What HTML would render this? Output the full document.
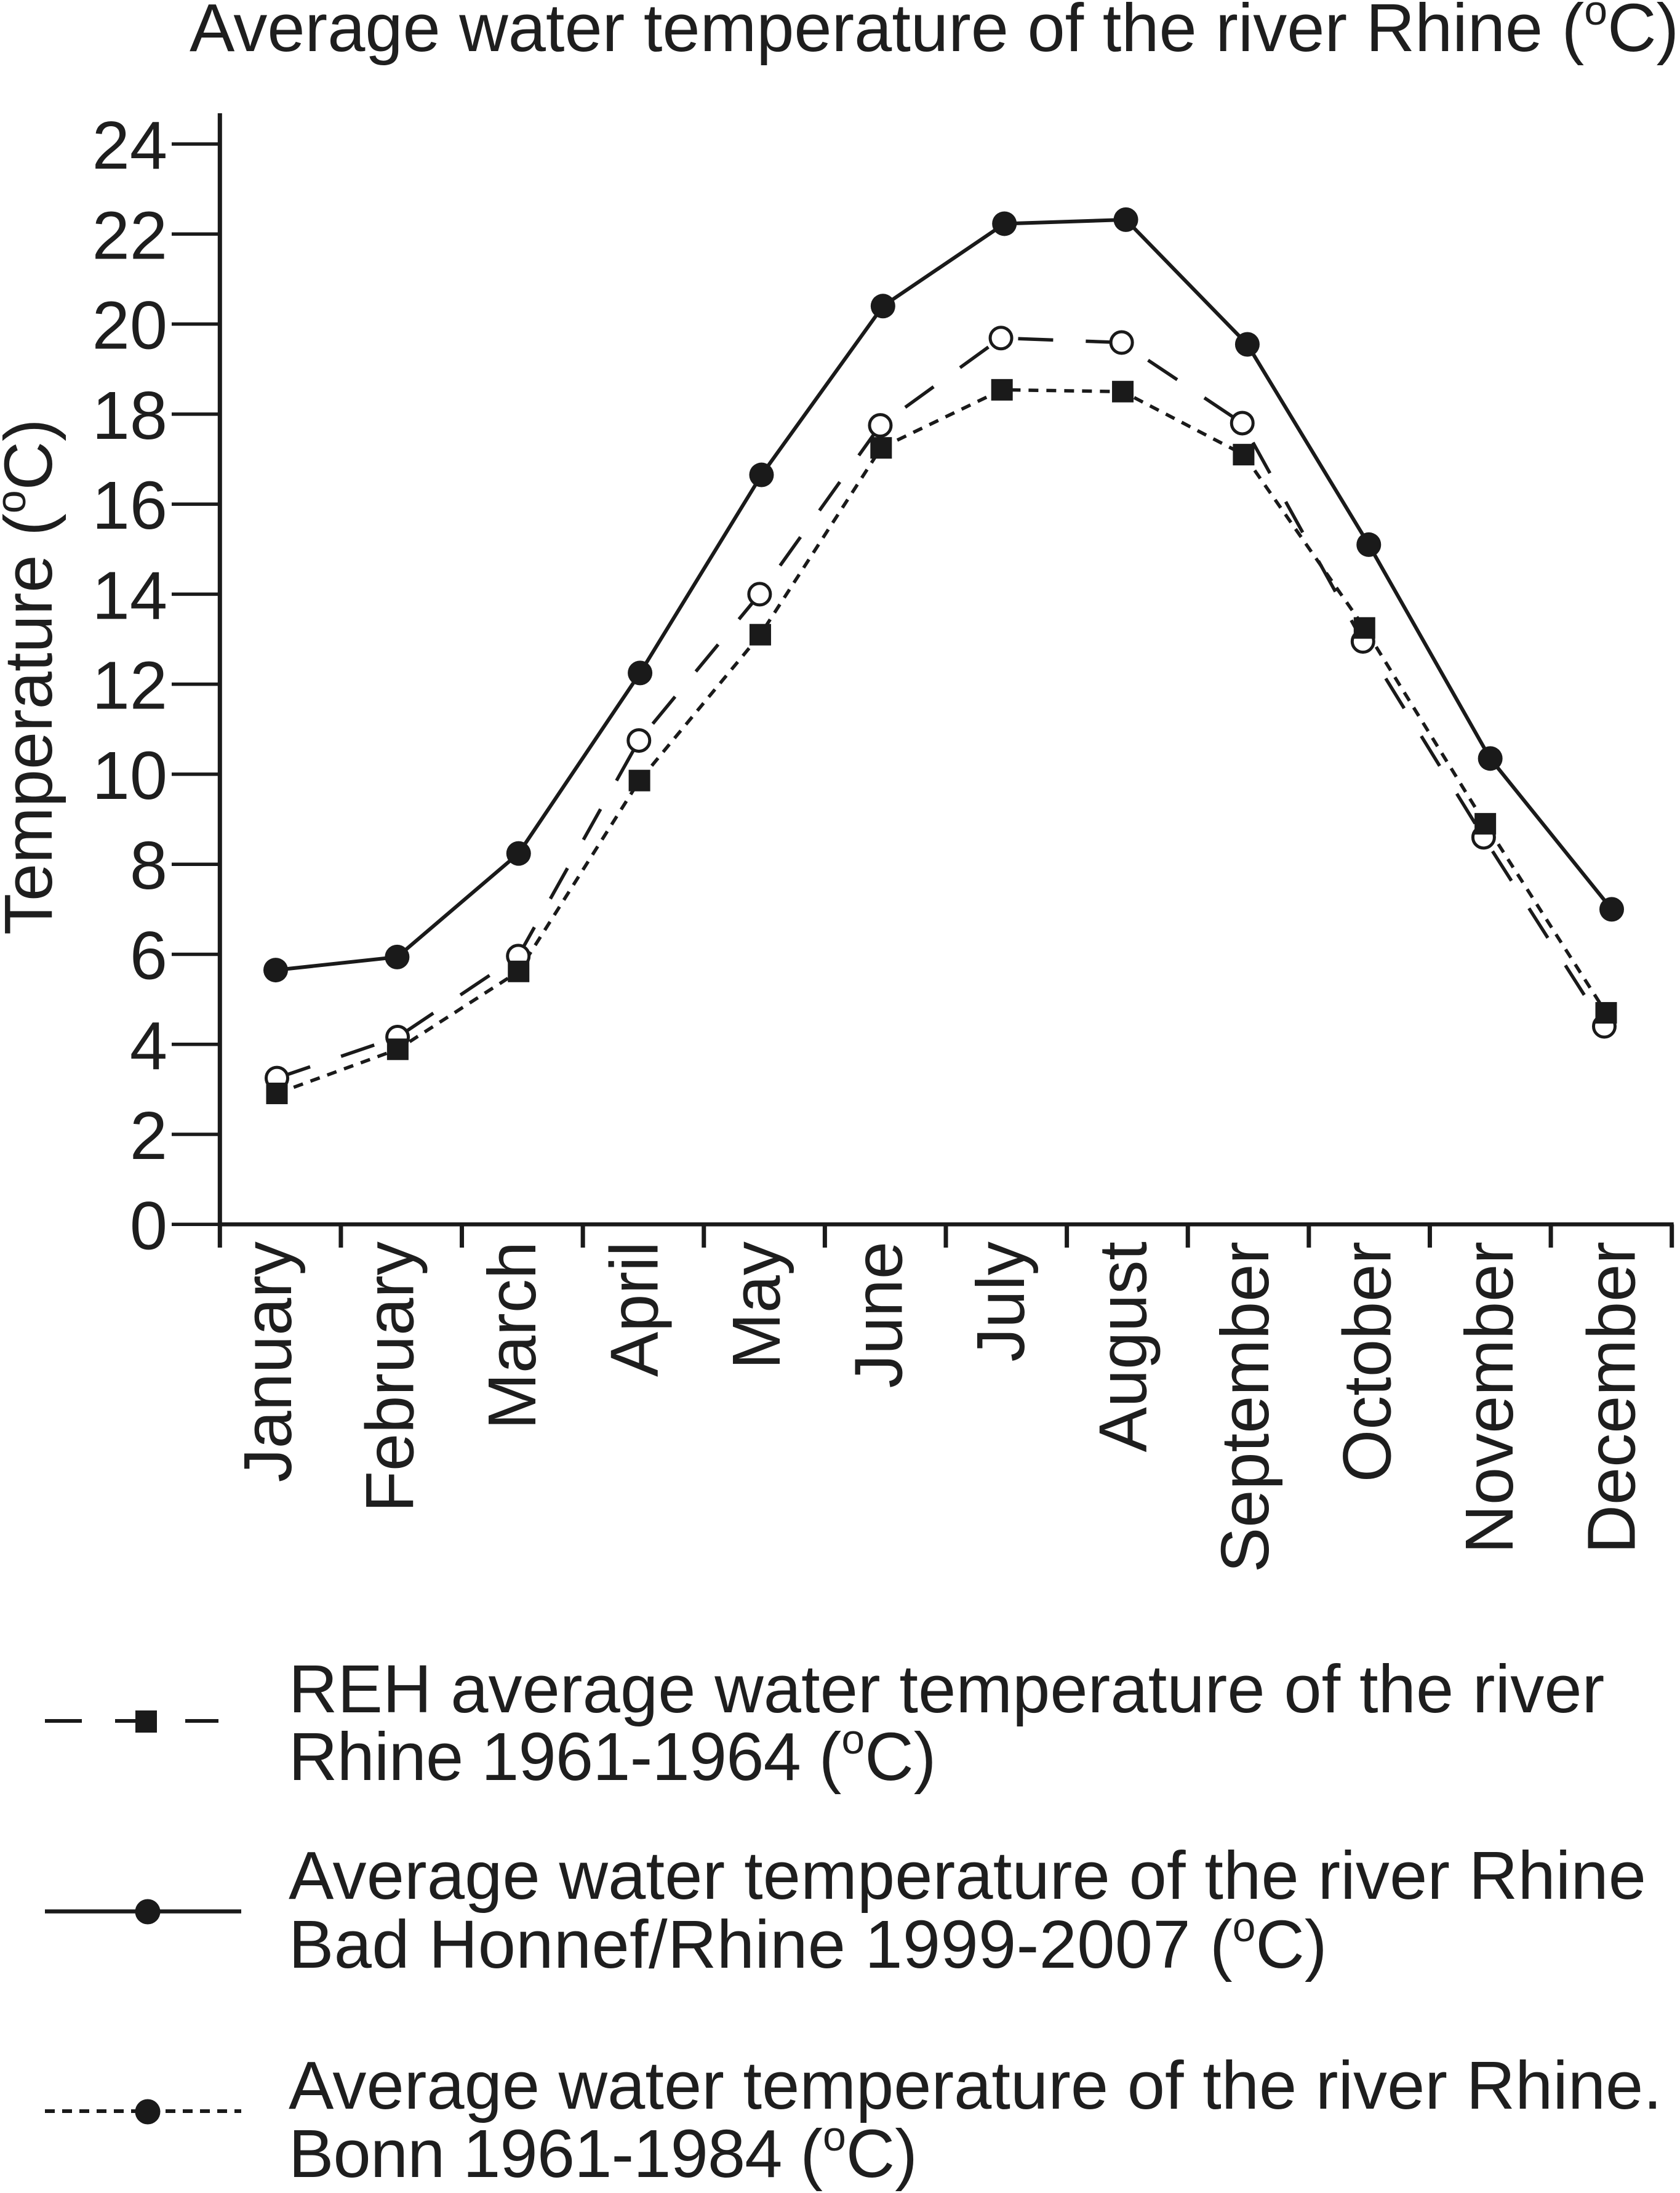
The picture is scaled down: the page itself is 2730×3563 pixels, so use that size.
<!DOCTYPE html>
<html lang="en">
<head>
<meta charset="utf-8">
<title>Average water temperature of the river Rhine</title>
<style>
html,body{margin:0;padding:0;background:#fff;}
svg{display:block;}
text{font-family:"Liberation Sans",Arial,sans-serif;font-size:110px;fill:#1e1e1e;}
</style>
</head>
<body>
<svg id="chart" xmlns="http://www.w3.org/2000/svg" width="2730" height="3563" viewBox="0 0 2730 3563">
  <rect x="0" y="0" width="2730" height="3563" fill="#ffffff"/>
  <text x="308" y="83">Average water temperature of the river Rhine (<tspan dy="-43" style="font-size:68px">o</tspan><tspan dy="43">C)</tspan></text>
  <text transform="translate(84,1519) rotate(-90)">Temperature (<tspan dy="-43" style="font-size:68px">o</tspan><tspan dy="43">C)</tspan></text>
  <g id="axes"></g>
  <g id="series"></g>

  <g>
    <g>
      <line x1="73" y1="2796" x2="355" y2="2796" stroke="#1a1a1a" stroke-width="6" stroke-dasharray="60 54"/>
      <rect x="220" y="2779" width="35" height="36" fill="#1a1a1a"/>
      <text x="469" y="2782" style="letter-spacing:0.11px">REH average water temperature of the river</text>
      <text x="469" y="2892"><tspan style="letter-spacing:-0.8px">Rhine 1961-1964 </tspan>(<tspan dy="-43" style="font-size:68px">o</tspan><tspan dy="43">C)</tspan></text>
    </g>
    <g>
      <line x1="73" y1="3105.5" x2="392" y2="3105.5" stroke="#1a1a1a" stroke-width="6.5"/>
      <circle cx="240" cy="3106" r="20.5" fill="#1a1a1a"/>
      <text x="469" y="3085" style="letter-spacing:0.16px">Average water temperature of the river Rhine</text>
      <text x="469" y="3197"><tspan style="letter-spacing:0.4px">Bad Honnef/Rhine 1999-2007 </tspan>(<tspan dy="-43" style="font-size:68px">o</tspan><tspan dy="43">C)</tspan></text>
    </g>
    <g>
      <line x1="73" y1="3430" x2="392" y2="3430" stroke="#1a1a1a" stroke-width="6" stroke-dasharray="16 12"/>
      <circle cx="240" cy="3431" r="20.5" fill="#1a1a1a"/>
      <text x="469" y="3426" style="letter-spacing:0.05px">Average water temperature of the river Rhine.</text>
      <text x="469" y="3537"><tspan style="letter-spacing:-0.85px">Bonn 1961-1984 </tspan>(<tspan dy="-43" style="font-size:68px">o</tspan><tspan dy="43">C)</tspan></text>
    </g>
  </g>
</svg>

<script>
const months = ["January","February","March","April","May","June","July","August","September","October","November","December"];
const yTicks = [0,2,4,6,8,10,12,14,16,18,20,22,24];
const solidValues = [5.65,5.94,8.24,12.25,16.65,20.4,22.23,22.32,19.55,15.1,10.35,7.0];
const openValues = [3.25,4.16,5.96,10.75,14.0,17.75,19.69,19.59,17.8,12.95,8.6,4.4];
const squareValues = [2.91,3.89,5.62,9.86,13.1,17.25,18.54,18.5,17.1,13.25,8.9,4.7];

const NS = "http://www.w3.org/2000/svg";
const INK = "#1a1a1a";
const axisX = 357.3, axisEndX = 2716.7, axisY = 1989.3, topY = 234;
const tickStep = (axisEndX - axisX) / months.length;

function yScale(v){ return axisY - v * (axisY - topY) / 24; }
function solidX(i){ return 448 + i * (2619 - 448) / 11; }
function openX(i){ return 450 + i * (2607 - 450) / 11; }
function squareX(i){ return 450 + i * (2610 - 450) / 11; }
function labelX(i){ return 473 + i * (2656.7 - 473) / 11; }

function make(tag, parent, attrs){
  const el = document.createElementNS(NS, tag);
  for (const k in attrs) el.setAttribute(k, attrs[k]);
  parent.appendChild(el);
  return el;
}

const axes = document.getElementById("axes");
const seriesGroup = document.getElementById("series");

const yLine = make("line", axes, {x1:axisX, y1:184, x2:axisX, y2:2027, stroke:INK, "stroke-width":7});



const xLine = make("line", axes, {x1:axisX - 3, y1:axisY, x2:axisEndX + 3, y2:axisY, stroke:INK, "stroke-width":6.5});



yTicks.forEach(function(t){
  const y = yScale(t);
  const tick = make("line", axes, {x1:279, y1:y, x2:axisX, y2:y, stroke:INK, "stroke-width":5.5});
  
  
  const label = make("text", axes, {x:272, y:y + 40, "text-anchor":"end"});
  
  
  label.textContent = t;
});

for (let i = 1; i <= months.length; i++){
  const x = axisX + i * tickStep;
  const tick = make("line", axes, {x1:x, y1:axisY, x2:x, y2:2027, stroke:INK, "stroke-width":7});
  
  
}

months.forEach(function(m, i){
  const label = make("text", axes, {transform:"translate(" + labelX(i) + ",2017) rotate(-90)", "text-anchor":"end"});
  
  
  label.textContent = m;
});

function polyPoints(values, xFn){
  return values.map(function(v, i){ return xFn(i).toFixed(1) + "," + yScale(v).toFixed(1); }).join(" ");
}

const solidLine = make("polyline", seriesGroup, {points:polyPoints(solidValues, solidX), fill:"none", stroke:INK, "stroke-width":6});



const openLine = make("polyline", seriesGroup, {points:polyPoints(openValues, openX), fill:"none", stroke:INK, "stroke-width":5.5, "stroke-dasharray":"57 53"});



const squareLine = make("polyline", seriesGroup, {points:polyPoints(squareValues, squareX), fill:"none", stroke:INK, "stroke-width":5.5, "stroke-dasharray":"16 13"});



solidValues.forEach(function(v, i){
  const c = make("circle", seriesGroup, {cx:solidX(i), cy:yScale(v), r:20, fill:INK});
  
  
});

openValues.forEach(function(v, i){
  const c = make("circle", seriesGroup, {cx:openX(i), cy:yScale(v), r:17.5, fill:"#ffffff", stroke:INK, "stroke-width":5});
  
  
});

squareValues.forEach(function(v, i){
  const s = make("rect", seriesGroup, {x:squareX(i) - 17.5, y:yScale(v) - 17.5, width:35, height:35, fill:INK});
  
  
});
</script>
</body>
</html>
